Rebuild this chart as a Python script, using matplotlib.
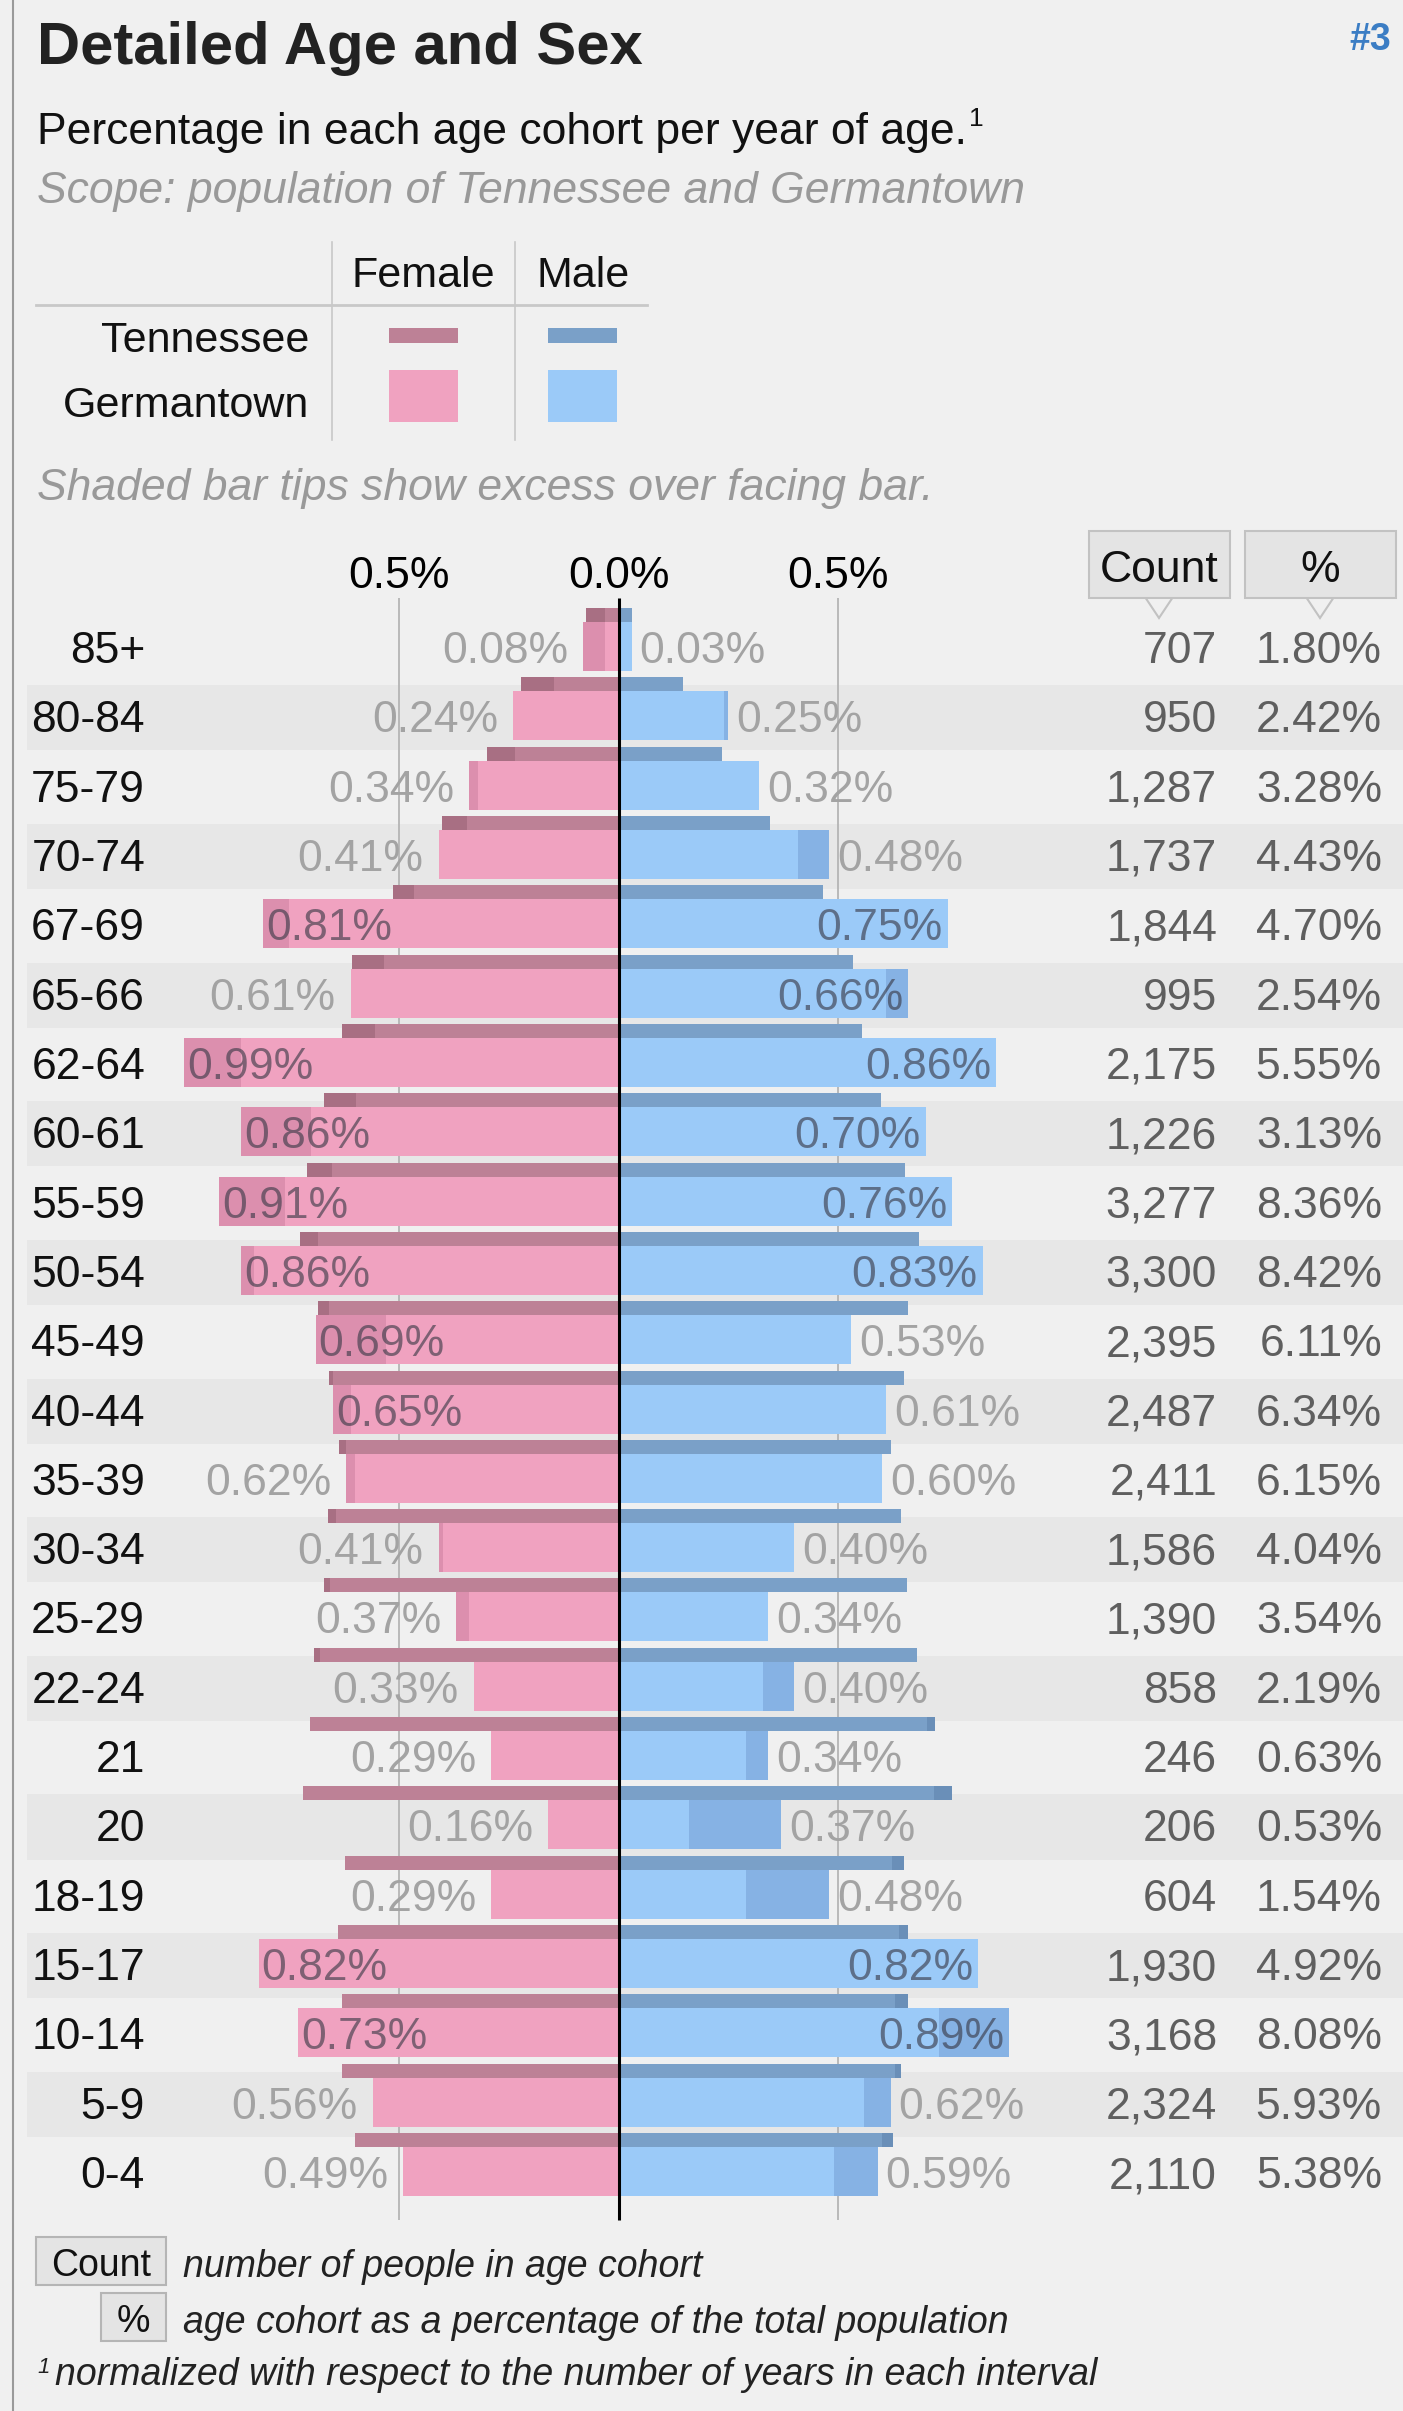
import matplotlib
matplotlib.use('Agg')
import matplotlib.pyplot as plt
from matplotlib.patches import Rectangle, Polygon
from matplotlib.lines import Line2D
from matplotlib.transforms import blended_transform_factory
import numpy as np

plt.rcParams['font.family'] = ['Liberation Sans', 'DejaVu Sans']

# ---------------- data ----------------
ages = ['85+', '80-84', '75-79', '70-74', '67-69', '65-66', '62-64', '60-61',
        '55-59', '50-54', '45-49', '40-44', '35-39', '30-34', '25-29', '22-24',
        '21', '20', '18-19', '15-17', '10-14', '5-9', '0-4']
germantown_female = [0.08, 0.24, 0.34, 0.41, 0.81, 0.61, 0.99, 0.86, 0.91, 0.86, 0.69,
                     0.65, 0.62, 0.41, 0.37, 0.33, 0.29, 0.16, 0.29, 0.82, 0.73, 0.56, 0.49]
germantown_male = [0.03, 0.25, 0.32, 0.48, 0.75, 0.66, 0.86, 0.70, 0.76, 0.83, 0.53,
                   0.61, 0.60, 0.40, 0.34, 0.40, 0.34, 0.37, 0.48, 0.82, 0.89, 0.62, 0.59]
tennessee_female = [0.073, 0.222, 0.300, 0.402, 0.513, 0.607, 0.630, 0.670, 0.709, 0.725, 0.685,
                    0.660, 0.637, 0.662, 0.670, 0.693, 0.703, 0.718, 0.623, 0.638, 0.630, 0.630, 0.600]
tennessee_male = [0.030, 0.146, 0.236, 0.345, 0.465, 0.535, 0.555, 0.597, 0.652, 0.685, 0.660,
                  0.650, 0.620, 0.643, 0.658, 0.680, 0.720, 0.760, 0.650, 0.660, 0.660, 0.643, 0.625]
counts = ['707', '950', '1,287', '1,737', '1,844', '995', '2,175', '1,226', '3,277', '3,300',
          '2,395', '2,487', '2,411', '1,586', '1,390', '858', '246', '206', '604', '1,930',
          '3,168', '2,324', '2,110']
shares = ['1.80%', '2.42%', '3.28%', '4.43%', '4.70%', '2.54%', '5.55%', '3.13%', '8.36%',
          '8.42%', '6.11%', '6.34%', '6.15%', '4.04%', '3.54%', '2.19%', '0.63%', '0.53%',
          '1.54%', '4.92%', '8.08%', '5.93%', '5.38%']
axis_ticks = [-0.5, 0.0, 0.5]
axis_tick_labels = ['0.5%', '0.0%', '0.5%']

# ---------------- style ----------------
BG = '#f0f0f0'
BAND = '#e7e7e7'
PINK = '#f0a2c0'
PINK_X = '#dc8fae'
BLUE = '#9bcaf8'
BLUE_X = '#86b2e4'
TN_PINK = '#bd8196'
TN_PINK_X = '#a86f83'
TN_BLUE = '#7aa0c8'
TN_BLUE_X = '#6a8fb8'
FS = 32

W, H = 1403, 2411
fig = plt.figure(figsize=(W / 100, H / 100), dpi=100, facecolor=BG)


def fx(px):
    return px / W


def fy(py):
    return 1 - py / H


ax = fig.add_axes([0, 0, 1, 1])
ax.set_facecolor('none')
ax.axis('off')
X0 = 618.5
PXP = 439.0  # pixels per 1 percentage point
ax.set_xlim(-X0 / PXP, (W - X0) / PXP)
ROW0 = 646.5
PITCH = 69.32
ax.set_ylim((H - ROW0) / PITCH, -ROW0 / PITCH)

gf = np.array(germantown_female)
gm = np.array(germantown_male)
tf = np.array(tennessee_female)
tm = np.array(tennessee_male)
n = len(ages)
y = np.arange(n)
GH = 49 / PITCH
TH = 14 / PITCH
ty = y - GH / 2 - TH / 2

# alternating bands
for i in range(1, n, 2):
    ax.axhspan(i - 0.44, i + 0.5, xmin=fx(27), xmax=1, color=BAND, lw=0, zorder=0)

# grid lines and center line
ax.vlines([-0.5, 0.5], -0.70, n - 1 + 0.70, colors='#b0b0b0', lw=1.2, zorder=1)
ax.vlines([0], -0.70, n - 1 + 0.70, colors='black', lw=2.2, zorder=8)

# Germantown bars
ax.barh(y, -gf, height=GH, color=PINK, lw=0, zorder=3)
ax.barh(y, gm, height=GH, color=BLUE, lw=0, zorder=3)
fex = np.clip(gf - gm, 0, None)
mex = np.clip(gm - gf, 0, None)
ax.barh(y, -fex, left=-gm, height=GH, color=PINK_X, lw=0, zorder=4)
ax.barh(y, mex, left=gf, height=GH, color=BLUE_X, lw=0, zorder=4)

# Tennessee bars
ax.barh(ty, -tf, height=TH, color=TN_PINK, lw=0, zorder=3)
ax.barh(ty, tm, height=TH, color=TN_BLUE, lw=0, zorder=3)
tfex = np.clip(tf - tm, 0, None)
tmex = np.clip(tm - tf, 0, None)
ax.barh(ty, -tfex, left=-tm, height=TH, color=TN_PINK_X, lw=0, zorder=4)
ax.barh(ty, tmex, left=tf, height=TH, color=TN_BLUE_X, lw=0, zorder=4)

# value labels
OUT_C = '#a3a3a3'
IN_C = (0.22, 0.22, 0.27, 0.62)
BASE = 16.5 / PITCH
for i in range(n):
    v = gf[i]
    if v >= 0.64:
        ax.text(-v + 3 / PXP, i + BASE, f'{v:.2f}%', ha='left', va='baseline',
                fontsize=FS, color=IN_C, zorder=7)
    else:
        ax.text(-v - 15 / PXP, i + BASE, f'{v:.2f}%', ha='right', va='baseline',
                fontsize=FS, color=OUT_C, zorder=7)
    v = gm[i]
    if v >= 0.64:
        ax.text(v - 5 / PXP, i + BASE, f'{v:.2f}%', ha='right', va='baseline',
                fontsize=FS, color=IN_C, zorder=7)
    else:
        ax.text(v + 8 / PXP, i + BASE, f'{v:.2f}%', ha='left', va='baseline',
                fontsize=FS, color=OUT_C, zorder=7)

# age labels, count and share columns
bt = blended_transform_factory(fig.transFigure, ax.transData)
for i in range(n):
    ax.text(fx(145), i + BASE, ages[i], transform=bt, ha='right', va='baseline',
            fontsize=FS, color='#111111')
    ax.text(fx(1217), i + BASE, counts[i], transform=bt, ha='right', va='baseline',
            fontsize=FS, color='#5f5f5f')
    ax.text(fx(1382), i + BASE, shares[i], transform=bt, ha='right', va='baseline',
            fontsize=FS, color='#5f5f5f')

# axis tick labels
tick_y = (588 - ROW0) / PITCH
for t, lab in zip(axis_ticks, axis_tick_labels):
    ax.text(t, tick_y, lab, ha='center', va='baseline', fontsize=FS, color='black')

# left border line
fig.add_artist(Line2D([fx(13), fx(13)], [0, 1], transform=fig.transFigure,
                      color='#9a9a9a', lw=1.5))

# ---------------- header texts ----------------
fig.text(fx(37), fy(64), 'Detailed Age and Sex', fontsize=43, fontweight='bold',
         color='#222222', ha='left', va='baseline')
fig.text(fx(1391), fy(50), '#3', fontsize=27, fontweight='bold', color='#3b7dc4',
         ha='right', va='baseline')
sub = fig.text(fx(37), fy(144), 'Percentage in each age cohort per year of age.',
               fontsize=FS, color='#111111', ha='left', va='baseline')
fig.text(fx(37), fy(203), 'Scope: population of Tennessee and Germantown', fontsize=FS,
         style='italic', color='#999999', ha='left', va='baseline')
fig.text(fx(37), fy(500), 'Shaded bar tips show excess over facing bar.', fontsize=FS,
         style='italic', color='#999999', ha='left', va='baseline')

# legend table
fig.text(fx(423), fy(287), 'Female', fontsize=FS - 1, ha='center', va='baseline', color='#111111')
fig.text(fx(583), fy(287), 'Male', fontsize=FS - 1, ha='center', va='baseline', color='#111111')
fig.text(fx(309), fy(352), 'Tennessee', fontsize=FS - 1, ha='right', va='baseline', color='#111111')
fig.text(fx(309), fy(417), 'Germantown', fontsize=FS - 1, ha='right', va='baseline', color='#111111')
fig.add_artist(Line2D([fx(36), fx(647)], [fy(305), fy(305)], transform=fig.transFigure,
                      color='#c8c8c8', lw=2))
for xv in (332, 515):
    fig.add_artist(Line2D([fx(xv), fx(xv)], [fy(242), fy(440)], transform=fig.transFigure,
                          color='#c8c8c8', lw=1.2))
for (x0, x1, y0, y1, c) in [(389, 458, 328, 343, TN_PINK), (548, 617, 328, 343, TN_BLUE),
                            (389, 458, 370, 422, PINK), (548, 617, 370, 422, BLUE)]:
    fig.add_artist(Rectangle((fx(x0), fy(y1)), fx(x1) - fx(x0), (y1 - y0) / H,
                             transform=fig.transFigure, fc=c, ec='none'))

# Count / % header boxes with pointers
BOX_FC = '#e4e4e4'
BOX_EC = '#c2c2c2'
for (x0, x1, tip, lab) in [(1089, 1230, 1159, 'Count'), (1245, 1396, 1320, '%')]:
    fig.add_artist(Polygon([(fx(tip - 14), fy(597)), (fx(tip), fy(618)), (fx(tip + 14), fy(597))],
                           closed=False, transform=fig.transFigure, fc=BG, ec=BOX_EC, lw=1.5))
    fig.add_artist(Rectangle((fx(x0), fy(598)), fx(x1) - fx(x0), (598 - 531) / H,
                             transform=fig.transFigure, fc=BOX_FC, ec=BOX_EC, lw=1.5))
    fig.text(fx((x0 + x1) / 2), fy(582), lab, fontsize=FS, ha='center', va='baseline',
             color='#111111')

# ---------------- footer ----------------
FF = 27
for (x0, x1, y0, y1, lab, desc) in [(36, 166, 2237, 2285, 'Count', 'number of people in age cohort'),
                                    (101, 166, 2293, 2341, '%', 'age cohort as a percentage of the total population')]:
    fig.add_artist(Rectangle((fx(x0), fy(y1)), fx(x1) - fx(x0), (y1 - y0) / H,
                             transform=fig.transFigure, fc=BOX_FC, ec='#b5b5b5', lw=1.5))
    fig.text(fx((x0 + x1) / 2), fy(y1 - 9), lab, fontsize=FF, ha='center', va='baseline',
             color='#111111')
    fig.text(fx(183), fy(y1 - 8), desc, fontsize=FF, style='italic', ha='left',
             va='baseline', color='#222222')
fig.text(fx(37), fy(2373), '1', fontsize=16, style='italic', ha='left', va='baseline',
         color='#222222')
fig.text(fx(55), fy(2385), 'normalized with respect to the number of years in each interval',
         fontsize=FF, style='italic', ha='left', va='baseline', color='#222222')

# superscript after subtitle
fig.canvas.draw()
bb = sub.get_window_extent(renderer=fig.canvas.get_renderer())
fig.text(bb.x1 / W + fx(2), fy(126), '1', fontsize=19, ha='left', va='baseline',
         color='#111111')

fig.savefig('out.png', dpi=100, facecolor=BG)
